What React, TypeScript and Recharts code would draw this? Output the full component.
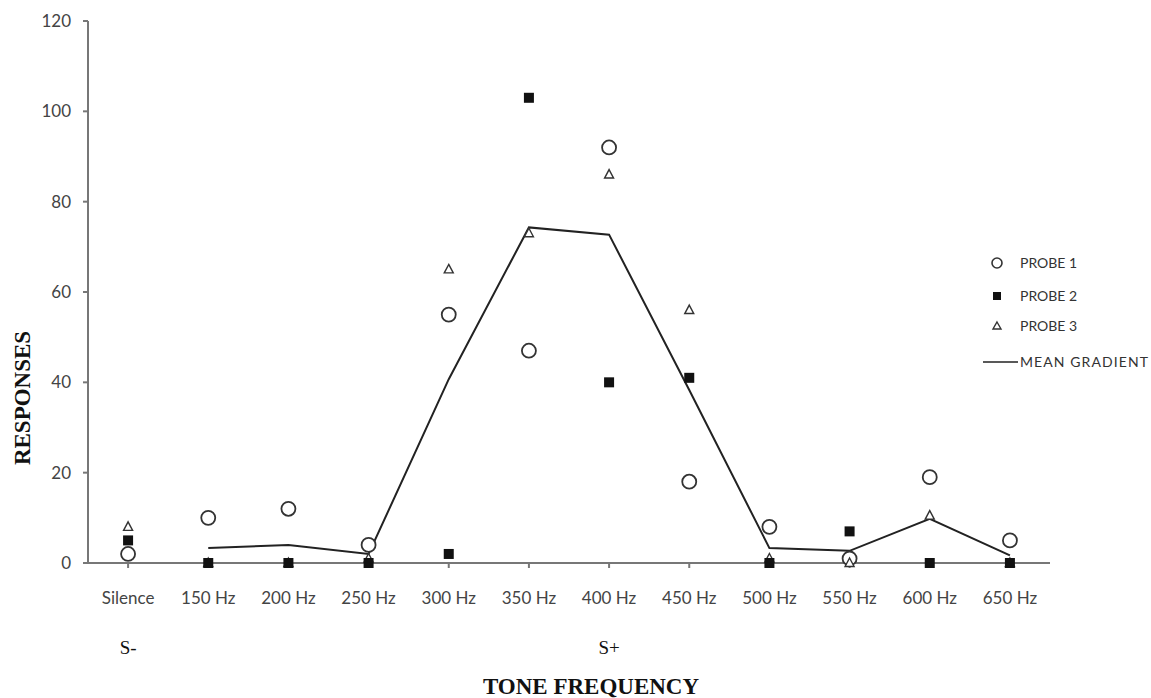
import { ComposedChart, Line, Scatter, XAxis, YAxis } from "recharts";

const categories = ["Silence", "150 Hz", "200 Hz", "250 Hz", "300 Hz", "350 Hz", "400 Hz", "450 Hz", "500 Hz", "550 Hz", "600 Hz", "650 Hz"];
const probe1 = [2, 10, 12, 4, 55, 47, 92, 18, 8, 1, 19, 5];
const probe2 = [5, 0, 0, 0, 2, 103, 40, 41, 0, 7, 0, 0];
const probe3 = [8, 0, 0, 1, 65, 73, 86, 56, 1, 0, 10.5, 0];
const meanGradient = [null, 3.3, 4, 2, 40.7, 74.3, 72.7, 38.3, 3.3, 2.7, 9.8, 1.7];
const stimulusLabels: Record<string, string> = { Silence: "S-", "400 Hz": "S+" };
const yTicks = [0, 20, 40, 60, 80, 100, 120];

const data = categories.map((c, i) => ({
  name: c,
  p1: probe1[i],
  p2: probe2[i],
  p3: probe3[i],
  mean: meanGradient[i],
}));

const sans = "Lato, 'Open Sans', sans-serif";
const serif = "'Liberation Serif', 'DejaVu Serif', serif";

const CircleMark = (props: any) => {
  const { cx, cy } = props;
  if (cx == null || cy == null) return null;
  return <circle cx={cx} cy={cy} r={7} fill="#fff" stroke="#333" strokeWidth={1.8} />;
};

const SquareMark = (props: any) => {
  const { cx, cy } = props;
  if (cx == null || cy == null) return null;
  return <rect x={cx - 5} y={cy - 5} width={10} height={10} fill="#111" />;
};

const TriangleMark = (props: any) => {
  const { cx, cy } = props;
  if (cx == null || cy == null) return null;
  return (
    <polygon
      points={`${cx},${cy - 5} ${cx + 4.5},${cy + 3.5} ${cx - 4.5},${cy + 3.5}`}
      fill="#fff"
      stroke="#333"
      strokeWidth={1.4}
    />
  );
};

const legendItems = [
  { label: "PROBE 1", kind: "circle" },
  { label: "PROBE 2", kind: "square" },
  { label: "PROBE 3", kind: "triangle" },
  { label: "MEAN GRADIENT", kind: "line" },
];
const legendRows = [11, 44, 74, 110];

const LegendBox = () => (
  <svg width={198} height={130} style={{ position: "absolute", left: 953, top: 252 }}>
    {legendItems.map((it, i) => {
      const y = legendRows[i];
      const cx = 44;
      return (
        <g key={it.label}>
          {it.kind === "circle" && <circle cx={cx} cy={y} r={5} fill="#fff" stroke="#333" strokeWidth={1.6} />}
          {it.kind === "square" && <rect x={cx - 4} y={y - 4} width={8} height={8} fill="#111" />}
          {it.kind === "triangle" && (
            <polygon points={`${cx},${y - 4} ${cx + 4},${y + 3} ${cx - 4},${y + 3}`} fill="#fff" stroke="#333" strokeWidth={1.4} />
          )}
          {it.kind === "line" && <line x1={30} x2={65} y1={y} y2={y} stroke="#222" strokeWidth={1.6} />}
          <text x={67} y={y + 5} fontSize={14} fontFamily={sans} fill="#333" textLength={it.kind === "line" ? 128 : undefined}>
            {it.label}
          </text>
        </g>
      );
    })}
  </svg>
);

const titleStyle = { fontFamily: serif, fontWeight: "bold" as const, fontSize: 23, fill: "#111" };

const YTitle = () => (
  <text x={22} y={398} transform="rotate(-90, 22, 398)" textAnchor="middle" dominantBaseline="central" style={titleStyle}>
    RESPONSES
  </text>
);

const XTitle = () => (
  <text x={591} y={694} textAnchor="middle" style={titleStyle}>
    TONE FREQUENCY
  </text>
);

export default function App() {
  return (
    <div style={{ position: "absolute", left: 0, top: 0, width: 1151, height: 698, background: "#fff" }}>
      <ComposedChart width={1151} height={698} data={data} margin={{ top: 21, right: 101, bottom: 0, left: 0 }}>
        <XAxis
          dataKey="name"
          xAxisId="main"
          scale="band"
          stroke="#777"
          strokeWidth={2}
          tickSize={5}
          tickMargin={24}
          tick={{ fill: "#444", fontSize: 17, fontFamily: sans }}
          height={40}
        />
        <XAxis
          dataKey="name"
          xAxisId="stim"
          scale="band"
          orientation="bottom"
          axisLine={false}
          tickLine={false}
          height={95}
          tickMargin={32}
          interval={0}
          tickFormatter={(v: string) => stimulusLabels[v] ?? ""}
          tick={{ fill: "#111", fontSize: 19, fontFamily: serif }}
          label={<XTitle />}
        />
        <YAxis
          domain={[0, 120]}
          ticks={yTicks}
          width={88}
          stroke="#777"
          strokeWidth={2}
          tickSize={5}
          tickMargin={12}
          tick={{ fill: "#444", fontSize: 17, fontFamily: sans }}
          label={<YTitle />}
        />
        <Line xAxisId="main" dataKey="mean" stroke="#222" strokeWidth={2} dot={false} type="linear" isAnimationActive={false} connectNulls={false} />
        <Scatter xAxisId="main" dataKey="p1" shape={CircleMark} isAnimationActive={false} />
        <Scatter xAxisId="main" dataKey="p3" shape={TriangleMark} isAnimationActive={false} />
        <Scatter xAxisId="main" dataKey="p2" shape={SquareMark} isAnimationActive={false} />
      </ComposedChart>
      <LegendBox />
    </div>
  );
}
